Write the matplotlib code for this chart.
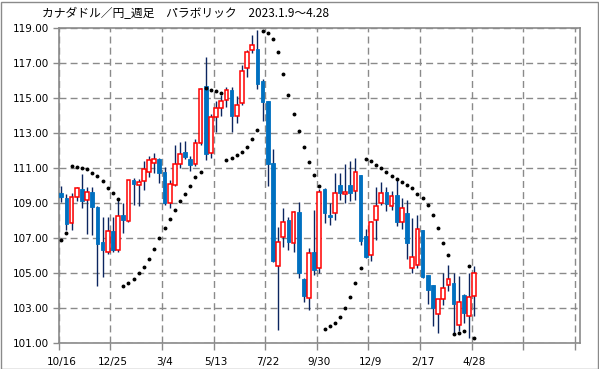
import matplotlib
matplotlib.use("Agg")
import matplotlib.pyplot as plt
from matplotlib.patches import Rectangle
import numpy as np

title = "カナダドル／円_週足　パラボリック　2023.1.9～4.28"
tick_labels = ["10/16", "12/25", "3/4", "5/13", "7/22", "9/30", "12/9", "2/17", "4/28"]

opens = [109.55, 109.30, 107.86, 109.33, 109.80, 109.17, 109.65, 108.79, 106.75, 106.20,
         107.42, 106.31, 108.30, 107.99, 110.30, 110.05, 110.28, 110.79, 111.30, 111.50,
         110.79, 109.02, 110.03, 111.23, 111.93, 111.50, 111.25, 112.43, 115.70, 111.84,
         113.93, 114.41, 114.89, 115.46, 113.99, 114.70, 116.70, 117.74, 117.81, 115.96,
         114.83, 111.29, 105.42, 107.08, 108.03, 106.70, 108.47, 104.66, 103.55, 106.18,
         105.27, 109.78, 108.31, 108.41, 110.03, 109.50, 110.03, 109.70, 110.60, 107.11,
         106.03, 108.03, 108.98, 109.65, 108.85, 109.46, 107.90, 108.45, 105.27, 105.46,
         107.46, 104.89, 104.31, 102.66, 103.50, 104.30, 104.45, 102.03, 103.74, 102.54,
         103.69]
highs = [110.00, 109.52, 109.55, 109.90, 110.66, 109.93, 109.93, 108.85, 108.22, 108.22,
         108.22, 109.30, 108.98, 110.33, 110.41, 110.35, 111.42, 111.69, 111.88, 111.60,
         111.05, 110.31, 112.30, 112.47, 112.54, 111.70, 112.66, 115.60, 117.36, 114.10,
         114.83, 115.20, 115.65, 115.65, 115.10, 116.86, 117.72, 118.60, 118.87, 116.07,
         114.85, 112.09, 107.65, 108.73, 108.22, 108.54, 109.04, 104.70, 106.41, 108.60,
         109.80, 109.84, 108.98, 110.70, 110.70, 111.23, 111.42, 111.55, 110.60, 107.50,
         108.00, 109.93, 110.20, 109.93, 109.69, 110.35, 109.27, 109.17, 108.12, 108.30,
         107.46, 104.90, 104.31, 103.50, 104.98, 105.46, 104.98, 104.81, 103.80, 104.98,
         105.40]
lows = [109.05, 107.46, 107.46, 109.10, 108.70, 107.25, 107.20, 104.25, 104.78, 106.10,
        106.20, 106.18, 107.27, 107.90, 108.89, 108.83, 109.74, 110.50, 110.73, 110.16,
        108.90, 108.72, 109.95, 111.00, 111.50, 110.85, 111.10, 112.30, 111.46, 111.60,
        113.04, 114.00, 114.50, 113.04, 113.60, 114.60, 116.19, 117.55, 115.52, 113.69,
        110.00, 105.61, 101.74, 106.50, 106.31, 106.22, 104.70, 103.32, 102.89, 104.90,
        104.98, 107.88, 107.74, 108.03, 109.20, 108.98, 109.10, 109.17, 106.60, 105.84,
        105.70, 106.89, 108.90, 108.56, 108.60, 107.69, 107.50, 105.78, 104.98, 105.30,
        104.70, 103.23, 101.98, 101.55, 103.17, 104.00, 101.50, 101.70, 102.12, 101.27,
        102.52]
closes = [109.33, 107.80, 109.36, 109.84, 109.12, 109.65, 108.79, 106.64, 106.30, 107.42,
          106.33, 108.27, 108.02, 110.30, 110.09, 110.22, 110.92, 111.46, 111.50, 110.73,
          108.98, 110.06, 111.25, 111.78, 111.60, 111.17, 112.45, 115.53, 111.80, 113.93,
          114.41, 114.85, 115.44, 113.97, 114.58, 116.54, 117.60, 118.00, 115.81, 114.75,
          111.22, 105.70, 106.79, 107.93, 106.75, 108.47, 104.98, 103.70, 106.12, 105.17,
          109.61, 108.41, 108.22, 109.55, 109.59, 109.61, 109.55, 110.79, 106.85, 105.93,
          107.93, 108.83, 109.55, 108.94, 109.40, 107.93, 108.70, 106.70, 105.93, 107.50,
          104.79, 104.03, 102.98, 103.50, 104.12, 104.64, 103.21, 103.36, 102.70, 103.63,
          105.02]
sar = [106.87, 107.31, 111.13, 111.06, 111.00, 110.92, 110.73, 110.56, 110.24, 109.84,
       109.55, 109.23, 104.27, 104.41, 104.65, 104.98, 105.33, 105.78, 106.35, 107.00,
       107.60, 108.10, 108.60, 109.10, 109.50, 109.98, 110.47, 110.79, 115.55, 115.48,
       115.40, 115.31, 111.46, 111.60, 111.75, 111.90, 112.18, 112.63, 113.17, 118.85,
       118.74, 118.40, 117.65, 116.35, 115.20, 114.10, 113.10, 112.22, 111.34, 110.60,
       109.95, 101.79, 101.95, 102.15, 102.47, 102.99, 103.62, 104.42, 105.28, 111.52,
       111.41, 111.20, 111.02, 110.78, 110.57, 110.36, 110.21, 110.05, 109.87, 109.53,
       109.30, 108.90, 108.34, 107.60, 106.73, 106.02, 101.51, 101.55, 101.66, 105.41,
       101.28]

W, H = 599, 369
fig = plt.figure(figsize=(W / 100, H / 100), dpi=100)
ax = fig.add_axes([58.7 / W, 1 - 343 / H, (580 - 58.7) / W, (343 - 28) / H])

grey = "#8a8a8a"
up_col = "#ff0000"
dn_col = "#0070c0"
wick_col = "#0b2560"
bw = 0.72

x = np.arange(len(opens))
for i in x:
    o, h, l, c = opens[i], highs[i], lows[i], closes[i]
    ax.vlines(i, l, h, color=wick_col, lw=1.0, zorder=2)
    lo, hi = min(o, c), max(o, c)
    if c >= o:
        ax.add_patch(Rectangle((i - bw / 2, lo), bw, max(hi - lo, 0.05),
                               facecolor="white", edgecolor=up_col, lw=1.1, zorder=3))
    else:
        ax.add_patch(Rectangle((i - bw / 2, lo), bw, max(hi - lo, 0.05),
                               facecolor=dn_col, edgecolor=dn_col, lw=0.6, zorder=3))

ax.plot(x, sar, linestyle="none", marker="o", ms=1.8, color="black", zorder=4)

ax.set_xlim(-0.5, 100.5)
ax.set_ylim(101, 119)
ax.set_yticks(np.arange(101, 119.01, 2))
ax.set_yticklabels([f"{v:.2f}" for v in np.arange(101, 119.01, 2)], fontsize=7.5)

grid_pos = np.arange(-0.5, 100, 10)
ax.set_xticks(grid_pos)
ax.set_xticklabels([""] * len(grid_pos))
ax.set_xticks(np.arange(0, 81, 10), minor=True)
ax.set_xticklabels(tick_labels, minor=True, fontsize=7.5)
ax.tick_params(axis="x", which="minor", length=0, pad=10)
ax.tick_params(axis="x", which="major", length=5, color=grey, width=1)
ax.tick_params(axis="y", length=4, color=grey, width=1, pad=3)

ax.grid(True, which="major", color=grey, linestyle=(0, (5, 3)), lw=1.0)
ax.set_axisbelow(True)
for s in ax.spines.values():
    s.set_color(grey)
    s.set_linewidth(1.2)

fig.text(42 / W, 1 - 14 / H, title, fontsize=8.5, va="center", ha="left",
         family=["Noto Sans CJK JP", "DejaVu Sans"])
fig.add_artist(Rectangle((0.5 / W, 0.5 / H), (W - 2) / W, (H - 2) / H,
                         transform=fig.transFigure, fill=False, edgecolor=grey, lw=1.0))

fig.savefig("out.png", dpi=100)
